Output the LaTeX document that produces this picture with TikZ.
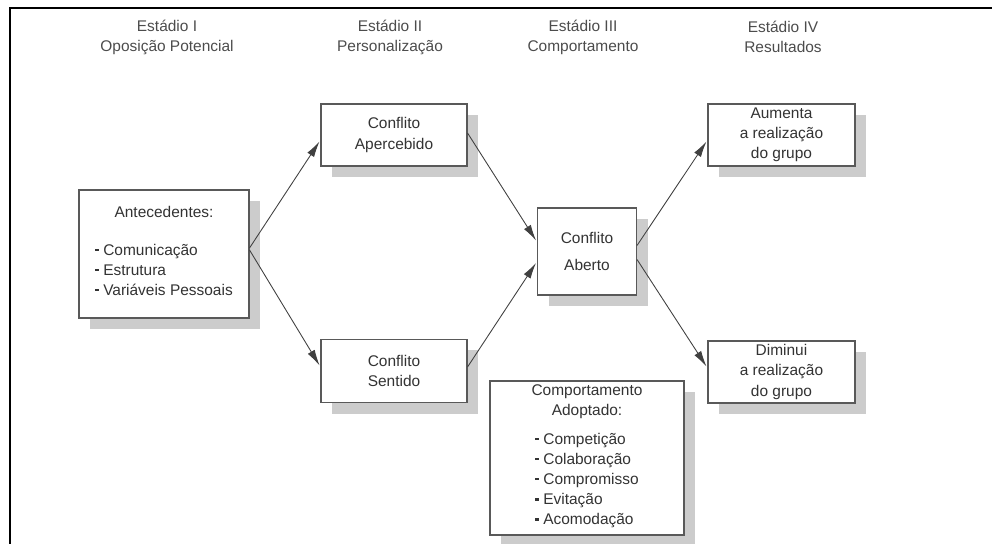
\documentclass[tikz,border=0pt]{standalone}
\usepackage{fontspec}
\setmainfont{Liberation Sans}
\usetikzlibrary{arrows.meta,shadows}
\newcommand\itm{\rule[0.28em]{0.22em}{0.16em}\hspace{0.3em}}

\begin{document}
\begin{tikzpicture}[x=0.2mm,y=-0.2mm,
  every node/.style={font=\fontsize{8.8}{11.4}\selectfont, text=black!80},
  box/.style={draw=black!65, line width=0.6pt, fill=white, align=center, inner sep=2pt,
    drop shadow={shadow xshift=2.2mm, shadow yshift=-2.2mm, fill=black!20, opacity=1}},
  link/.style={draw=black!75, line width=0.5pt, -{Latex[length=3.2mm,width=1.6mm]}, shorten >=1pt},
  stage/.style={align=center, text=black!70}]
\useasboundingbox (0,0) rectangle (992,544);
\draw[line width=1.1pt] (10,544) -- (10,8) -- (992,8); % frame

\node[stage] (hdI) at (167,37) {Estádio I\\Oposição Potencial};
\node[stage] (hdII) at (390,37) {Estádio II\\Personalização};
\node[stage] (hdIII) at (583,37) {Estádio III\\Comportamento};
\node[stage] (hdIV) at (783,37) {Estádio IV\\Resultados};

\node[box, minimum width=34mm, minimum height=25.6mm] (ante) at (164,254)
  {Antecedentes:\\[10pt]\begin{tabular}[t]{@{}l@{}}\itm Comunicação\\ \itm Estrutura\\ \itm Variáveis Pessoais\end{tabular}}; % Antecedentes
\node[box, minimum width=29.2mm, minimum height=12.4mm] (aperc) at (394,135) {Conflito\\Apercebido};
\node[box, minimum width=29.2mm, minimum height=12.6mm] (sent) at (394,371) {Conflito\\Sentido};
\node[box, minimum width=19.8mm, minimum height=17.4mm] (aberto) at (587,251.5) {Conflito\\[4pt]Aberto};
\node[box, minimum width=29.4mm, minimum height=12.4mm] (aumenta) at (781.5,135) {Aumenta\\a realização\\do grupo};
\node[box, minimum width=29.4mm, minimum height=12.4mm] (diminui) at (781.5,372) {Diminui\\a realização\\do grupo};
\node[box, minimum width=38.8mm, minimum height=30.8mm] (adopt) at (587,458)
  {Comportamento\\Adoptado:\\[5pt]\begin{tabular}[t]{@{}l@{}}\itm Competição\\ \itm Colaboração\\ \itm Compromisso\\ \itm Evitação\\ \itm Acomodação\end{tabular}}; % Comportamento Adoptado

\draw[link] ([yshift=1.2mm]ante.east) -- ([yshift=-1mm]aperc.west);
\draw[link] ([yshift=0.8mm]ante.east) -- ([yshift=0.8mm]sent.west);
\draw[link] ([yshift=0.4mm]aperc.east) -- ([yshift=1.9mm]aberto.west);
\draw[link] ([yshift=0.8mm]sent.east) -- ([yshift=-2mm]aberto.west);
\draw[link] ([yshift=1.2mm]aberto.east) -- ([yshift=-1mm]aumenta.west);
\draw[link] ([yshift=-1.6mm]aberto.east) -- ([yshift=0.8mm]diminui.west);
\end{tikzpicture}
\end{document}
